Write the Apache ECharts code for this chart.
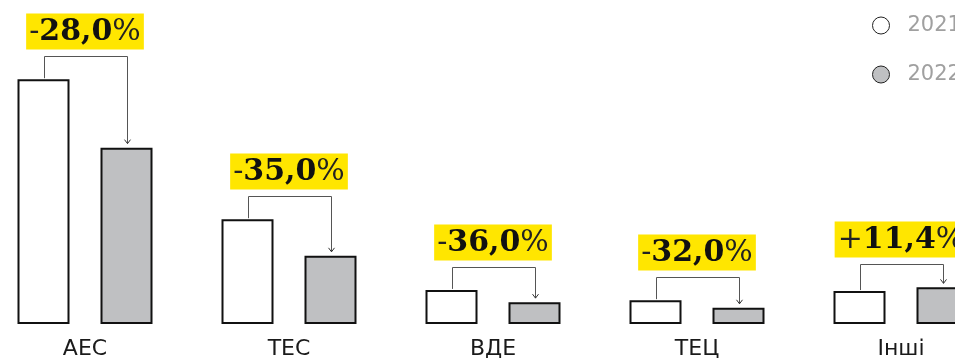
<!DOCTYPE html>
<html>
<head>
<meta charset="utf-8">
<script src="https://cdn.jsdelivr.net/npm/echarts@6/dist/echarts.min.js"></script>
<style>
  html, body { margin: 0; padding: 0; overflow: hidden; background: #fff; }
  #chart { position: absolute; left: -17px; top: 0; width: 1120px; height: 358px; }
</style>
</head>
<body>
<div id="chart"></div>
<script>
// дані
var categories = ['АЕС', 'ТЕС', 'ВДЕ', 'ТЕЦ', 'Інші'];
var years = ['2021', '2022'];
var values2021 = [86.2, 36.9, 12.0, 8.4, 11.6];
var values2022 = [62.1, 24.0, 7.7, 5.7, 12.9];
var changes = ['-28,0%', '-35,0%', '-36,0%', '-32,0%', '+11,4%'];

var BAR_W = 52;
var BAR_GAP = 31;
var SERIF = 'DejaVu Serif';

var chart = echarts.init(document.getElementById('chart'));

function splitChange(s) {
    // знак і відсоток тонші, число жирне
    var sign = s.charAt(0);
    var num = s.slice(1, s.length - 1);
    return '{s|' + sign + '}{b|' + num + '}{p|%}';
}

function renderNote(params, api) {
    var idx = api.value(0);
    var a = api.value(1);
    var b = api.value(2);
    var base = api.coord([idx, 0]);
    var pA = api.coord([idx, a]);
    var pB = api.coord([idx, b]);
    var off = (BAR_W + BAR_GAP) / 2;
    var x1 = Math.round(base[0] - off) + 0.5;
    var x2 = Math.round(base[0] + off) + 0.5;
    var top = Math.min(pA[1], pB[1]);
    var lineY = Math.round(top - 23) + 0.5;
    var tipY = pB[1] - 4;
    return {
        type: 'group',
        children: [{
            type: 'polyline',
            shape: { points: [[x1, pA[1] - 1], [x1, lineY], [x2, lineY], [x2, tipY]] },
            style: { stroke: '#555', lineWidth: 1, fill: null }
        }, {
            type: 'polyline',
            shape: { points: [[x2 - 3, tipY - 4], [x2, tipY], [x2 + 3, tipY - 4]] },
            style: { stroke: '#333', lineWidth: 1, fill: null }
        }, {
            type: 'text',
            x: base[0],
            y: lineY - 7,
            style: {
                text: splitChange(changes[idx]),
                align: 'center',
                verticalAlign: 'bottom',
                backgroundColor: '#ffe600',
                padding: [3, 3, 1, 3],
                rich: {
                    s: { fontFamily: SERIF, fontSize: 30, fontWeight: 'normal', fill: '#222', lineHeight: 32 },
                    b: { fontFamily: SERIF, fontSize: 30, fontWeight: 'bold', fill: '#111', lineHeight: 32 },
                    p: { fontFamily: SERIF, fontSize: 30, fontWeight: 'normal', fill: '#222', lineHeight: 32 }
                }
            }
        }]
    };
}

var noteData = categories.map(function (c, i) {
    return [i, values2021[i], values2022[i]];
});

chart.setOption({
    animation: false,
    grid: { left: 0, width: 1020, top: 40, bottom: 34, outerBoundsMode: 'none' },
    legend: {
        data: years,
        orient: 'vertical',
        left: 889,
        top: 15,
        padding: 0,
        icon: 'circle',
        itemWidth: 17,
        itemHeight: 17,
        itemGap: 28,
        itemStyle: { borderWidth: 1, borderColor: '#222' },
        textStyle: { color: '#a0a0a0', fontSize: 21, fontFamily: 'DejaVu Sans', padding: [0, 0, 0, 13] }
    },
    xAxis: {
        type: 'category',
        data: categories,
        axisLine: { show: false },
        axisTick: { show: false },
        axisLabel: { color: '#1a1a1a', fontSize: 22, fontFamily: 'DejaVu Sans', margin: 14 }
    },
    yAxis: {
        type: 'value',
        min: 0,
        max: 100,
        show: false
    },
    series: [{
        name: '2021',
        type: 'bar',
        data: values2021,
        barWidth: BAR_W,
        barGap: (BAR_GAP / BAR_W * 100) + '%',
        itemStyle: { color: '#fff', borderColor: '#111', borderWidth: 2 }
    }, {
        name: '2022',
        type: 'bar',
        data: values2022,
        barWidth: BAR_W,
        itemStyle: { color: '#bfc0c2', borderColor: '#111', borderWidth: 2 }
    }, {
        type: 'custom',
        renderItem: renderNote,
        data: noteData,
        encode: { x: 0, y: [1, 2] },
        silent: true,
        z: 5
    }]
});
</script>
</body>
</html>
